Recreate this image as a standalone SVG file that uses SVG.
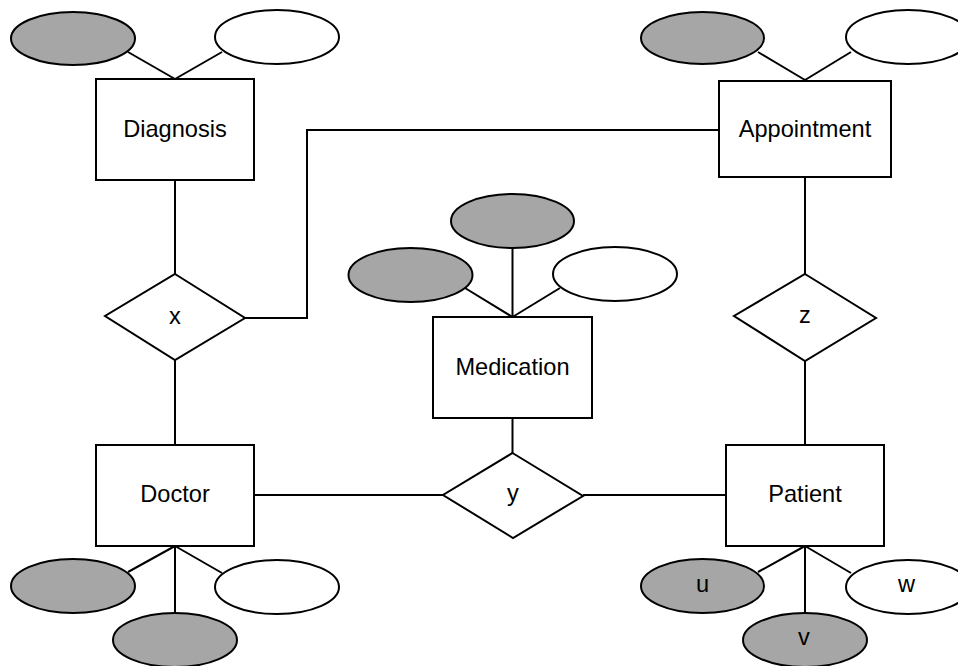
<svg xmlns="http://www.w3.org/2000/svg" width="958" height="666" viewBox="0 0 958 666">
<style>
.ln{stroke:#000;stroke-width:2;fill:none}
.box{fill:#fff;stroke:#000;stroke-width:2}
.key{fill:#a6a6a6;stroke:#000;stroke-width:2}
.att{fill:#fff;stroke:#000;stroke-width:2}
text{font-family:"Liberation Sans",Arial,sans-serif;font-size:23.6px;fill:#000;text-anchor:middle}
</style>
<rect width="958" height="666" fill="#fff"/>
<g id="connectors">
<line class="ln" x1="128" y1="52" x2="175" y2="79"/>
<line class="ln" x1="222" y1="52" x2="175" y2="79"/>
<line class="ln" x1="175" y1="180" x2="175" y2="274"/>
<line class="ln" x1="175" y1="360" x2="175" y2="445"/>
<polyline class="ln" points="245,318 307,318 307,130 719,130"/>
<line class="ln" x1="758" y1="52" x2="805" y2="80"/>
<line class="ln" x1="851" y1="52" x2="805" y2="80"/>
<line class="ln" x1="805" y1="177" x2="805" y2="274"/>
<line class="ln" x1="805" y1="361" x2="805" y2="445"/>
<line class="ln" x1="512.5" y1="248" x2="512.5" y2="317"/>
<line class="ln" x1="465" y1="288" x2="512.5" y2="317"/>
<line class="ln" x1="560" y1="288" x2="512.5" y2="317"/>
<line class="ln" x1="512.5" y1="418" x2="512.5" y2="453"/>
<line class="ln" x1="254" y1="495" x2="443" y2="495"/>
<line class="ln" x1="583" y1="495" x2="726" y2="495"/>
<line class="ln" x1="175" y1="546" x2="128" y2="572"/>
<line class="ln" x1="175" y1="546" x2="222" y2="573"/>
<line class="ln" x1="175" y1="546" x2="175" y2="613"/>
<line class="ln" x1="805" y1="546" x2="758" y2="572"/>
<line class="ln" x1="805" y1="546" x2="851" y2="573"/>
<line class="ln" x1="805" y1="546" x2="805" y2="613"/>
</g>
<g id="diagnosis">
<rect class="box" x="96" y="79" width="158" height="101"/>
<text x="175" y="137">Diagnosis</text>
</g>
<g id="diagnosis-attr1"><ellipse class="key" cx="73" cy="38.5" rx="62" ry="26.5"/></g>
<g id="diagnosis-attr2"><ellipse class="att" cx="277" cy="37" rx="62" ry="27"/></g>
<g id="appointment">
<rect class="box" x="719" y="81" width="172" height="96"/>
<text x="805" y="137">Appointment</text>
</g>
<g id="appointment-attr1"><ellipse class="key" cx="702.5" cy="38" rx="61.5" ry="26"/></g>
<g id="appointment-attr2"><ellipse class="att" cx="908" cy="37" rx="62" ry="27"/></g>
<g id="medication">
<rect class="box" x="433" y="317" width="159" height="101"/>
<text x="512.5" y="375">Medication</text>
</g>
<g id="medication-attr1"><ellipse class="key" cx="512.5" cy="221" rx="61.5" ry="27"/></g>
<g id="medication-attr2"><ellipse class="key" cx="410.5" cy="275" rx="62" ry="27"/></g>
<g id="medication-attr3"><ellipse class="att" cx="615" cy="274" rx="62" ry="27"/></g>
<g id="rel-x">
<polygon class="box" points="175,274 245,318 175,360 105,316"/>
<text x="175" y="324">x</text>
</g>
<g id="rel-z">
<polygon class="box" points="805,274 876,318 805,361 734,316"/>
<text x="805" y="323">z</text>
</g>
<g id="rel-y">
<polygon class="box" points="512.5,453 583,496 513,538 443,495"/>
<text x="513" y="501">y</text>
</g>
<g id="doctor">
<rect class="box" x="96" y="445" width="158" height="101"/>
<text x="175" y="501.5">Doctor</text>
</g>
<g id="doctor-attr1"><ellipse class="key" cx="73" cy="586" rx="62" ry="27"/></g>
<g id="doctor-attr2"><ellipse class="att" cx="277" cy="587" rx="62" ry="27"/></g>
<g id="doctor-attr3"><ellipse class="key" cx="175" cy="640" rx="62" ry="27"/></g>
<g id="patient">
<rect class="box" x="726" y="445" width="158" height="101"/>
<text x="805" y="501.5">Patient</text>
</g>
<g id="patient-u"><ellipse class="key" cx="702.5" cy="586" rx="61.5" ry="27"/><text x="702.5" y="592">u</text></g>
<g id="patient-w"><ellipse class="att" cx="908" cy="587" rx="62" ry="27"/><text x="906.5" y="592">w</text></g>
<g id="patient-v"><ellipse class="key" cx="805" cy="640" rx="62" ry="27"/><text x="804" y="645">v</text></g>
</svg>
